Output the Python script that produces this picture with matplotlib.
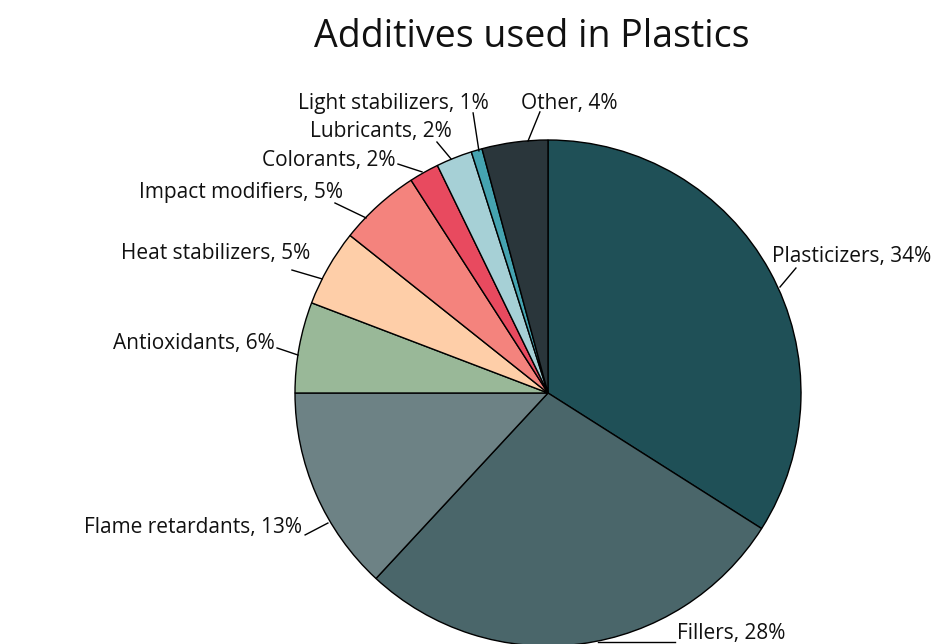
import matplotlib.pyplot as plt

# --- data ---
labels = ['Plasticizers', 'Fillers', 'Flame retardants', 'Antioxidants',
          'Heat stabilizers', 'Impact modifiers', 'Colorants', 'Lubricants',
          'Light stabilizers', 'Other']
shares = [34.0, 27.9, 13.1, 5.8, 4.9, 5.2, 1.9, 2.3, 0.7, 4.2]
colors = ['#1f5057', '#4a666a', '#6d8285', '#99b898', '#fecea8',
          '#f4837d', '#e84a5f', '#a6d0d6', '#45a3b0', '#2a363b']

# label layout (unit-circle coords): connector start, connector end, text anchor
line_start = [(0.917, 0.419), (0.198, -0.984), (-0.870, -0.514), (-0.988, 0.150),
              (-0.893, 0.451), (-0.719, 0.692), (-0.498, 0.874), (-0.383, 0.925),
              (-0.273, 0.957), (-0.079, 0.996)]
line_end = [(0.980, 0.494), (0.502, -0.984), (-0.960, -0.561), (-1.071, 0.178),
            (-1.012, 0.486), (-0.842, 0.751), (-0.593, 0.905), (-0.439, 0.992),
            (-0.296, 1.107), (-0.032, 1.111)]
text_pos = [(0.885, 0.540), (0.510, -0.952), (-0.972, -0.533), (-1.079, 0.195),
            (-0.941, 0.550), (-0.810, 0.791), (-0.601, 0.918), (-0.379, 1.033),
            (-0.233, 1.143), (-0.107, 1.143)]
text_ha = ['left', 'left', 'right', 'right', 'right', 'right', 'right', 'right',
           'right', 'left']

plt.rcParams['font.family'] = ['Open Sans', 'DejaVu Sans']

fig = plt.figure(figsize=(9.4, 6.44), dpi=100)
ax = fig.add_axes([0, 0, 1, 1])

ax.pie(shares, colors=colors, startangle=90, counterclock=False,
       wedgeprops=dict(edgecolor='black', linewidth=1.0))

for i, name in enumerate(labels):
    (x0, y0), (x1, y1) = line_start[i], line_end[i]
    ax.plot([x0, x1], [y0, y1], color='black', linewidth=1.0)
    ax.text(text_pos[i][0], text_pos[i][1], f'{name}, {round(shares[i])}%',
            ha=text_ha[i], va='center', fontsize=15, color='#111111')

ax.set_xlim(-548 / 253, (940 - 548) / 253)
ax.set_ylim(-(644 - 393) / 253, 393 / 253)
ax.set_aspect('auto')
ax.axis('off')

fig.text(532 / 940, 1 - 37 / 644, 'Additives used in Plastics',
         ha='center', va='center', fontsize=27, color='#111111')

fig.savefig('out.png', dpi=100)
